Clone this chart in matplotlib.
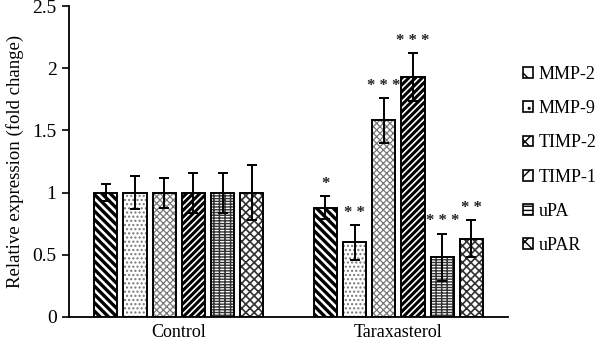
import matplotlib
matplotlib.use("Agg")
import matplotlib.pyplot as plt
import numpy as np

plt.rcParams['font.family'] = ['Liberation Serif', 'DejaVu Serif']

groups = ["Control", "Taraxasterol"]
genes = ["MMP-2", "MMP-9", "TIMP-2", "TIMP-1", "uPA", "uPAR"]
control_vals = [1.0, 1.0, 1.0, 1.0, 1.0, 1.0]
control_err = [0.07, 0.13, 0.12, 0.16, 0.16, 0.22]
tarax_vals = [0.88, 0.60, 1.58, 1.93, 0.48, 0.63]
tarax_err = [0.09, 0.14, 0.18, 0.19, 0.19, 0.15]
tarax_sig = ["*", "**", "***", "***", "***", "**"]

hatches = ["\\\\\\\\", "....", "xxxxx", "/////", "------|||", "xxxx"]
hatch_colors = ["black", "#777777", "#777777", "black", "#333333", "#333333"]
hatch_lw = [2.4, 1.0, 0.9, 2.2, 1.0, 1.2]

fig = plt.figure(figsize=(6, 3.44), dpi=100)
ax = fig.add_axes([0.115, 0.0785, 0.732, 0.904])

pitch = 0.133
width = 0.105
x = np.arange(len(groups))
handles = []
for i, g in enumerate(genes):
    pos = x + (i - 2.5) * pitch
    vals = [control_vals[i], tarax_vals[i]]
    errs = [control_err[i], tarax_err[i]]
    with plt.rc_context({'hatch.linewidth': hatch_lw[i], 'hatch.color': hatch_colors[i]}):
        ax.bar(pos, vals, width, color='white', edgecolor=hatch_colors[i],
               linewidth=0, hatch=hatches[i], zorder=2)
        b = ax.bar(pos, vals, width, facecolor='none', edgecolor='black',
                   linewidth=1.4, hatch=hatches[i], label=g, zorder=2.5)
    for p in b:
        p.set_hatch(None)
    ax.errorbar(pos, vals, yerr=errs, fmt='none', ecolor='black',
                elinewidth=1.4, capsize=3.5, capthick=1.4, zorder=3)
    ax.annotate(" ".join(tarax_sig[i]), (pos[1], tarax_vals[i] + tarax_err[i]),
                xytext=(0, 3), textcoords='offset points', ha='center',
                va='bottom', fontsize=12, fontweight='bold', color='#222222')
    handles.append(b)

# legend proxies with hatch
import matplotlib.patches as mpatches
proxies = []
for i, g in enumerate(genes):
    with plt.rc_context({'hatch.linewidth': min(hatch_lw[i], 1.0), 'hatch.color': hatch_colors[i]}):
        pr = mpatches.Patch(facecolor='white', edgecolor='black', linewidth=1.2,
                            hatch=hatches[i][:max(1, len(hatches[i]) // 2)], label=g)
    proxies.append(pr)

ax.set_xlim(-0.5, 1.5)
ax.set_ylim(0, 2.5)
ax.set_yticks([0, 0.5, 1, 1.5, 2, 2.5])
ax.set_yticklabels(["0", "0.5", "1", "1.5", "2", "2.5"], fontsize=14)
ax.set_xticks(x)
ax.set_xticklabels(groups, fontsize=13)
ax.tick_params(axis='x', length=0, pad=5)
ax.tick_params(axis='y', direction='out', length=5, width=1.2, pad=4)
ax.spines['top'].set_visible(False)
ax.spines['right'].set_visible(False)
ax.spines['left'].set_linewidth(1.3)
ax.spines['bottom'].set_linewidth(1.3)
ax.set_ylabel("Relative expression (fold change)", fontsize=13.5, labelpad=6)

fig.legend(handles=proxies, loc='center left', bbox_to_anchor=(0.872, 0.535),
           frameon=False, fontsize=13, handlelength=0.55, handleheight=0.55,
           handletextpad=0.3, labelspacing=0.95, borderpad=0, borderaxespad=0)

fig.savefig("out.png", dpi=100)
